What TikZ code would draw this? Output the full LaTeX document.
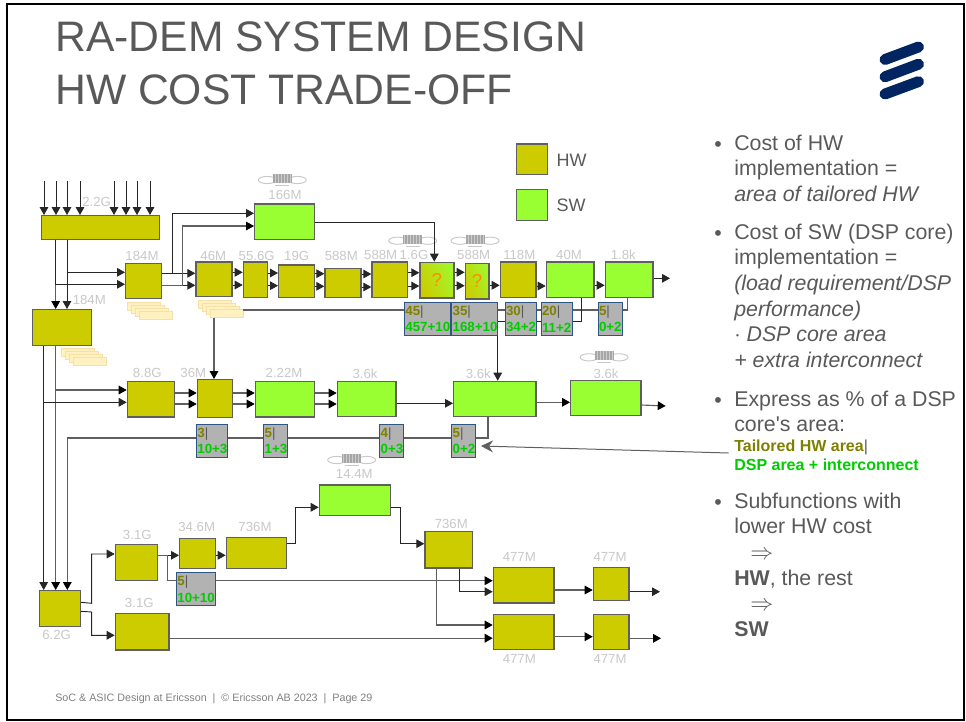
\documentclass[tikz,border=0pt]{standalone}
\usepackage{fontspec}
\setmainfont{Liberation Sans}
\usepackage{tikz}
\usetikzlibrary{arrows.meta, shapes.geometric}
\definecolor{hwfill}{HTML}{CCCC00}
\definecolor{swfill}{HTML}{99FF33}
\definecolor{edgec}{HTML}{5F5F5F}
\definecolor{tagfill}{HTML}{B2B2B2}
\definecolor{tagedge}{HTML}{2F5585}
\definecolor{tagol}{HTML}{808000}
\definecolor{taggn}{HTML}{00CC00}
\definecolor{ink}{HTML}{595959}
\definecolor{faint}{HTML}{C8C8C8}
\definecolor{logoc}{HTML}{002561}
\definecolor{memofill}{HTML}{FFF1C0}
\definecolor{memoedge}{HTML}{F7DFA8}
\newcommand{\tagtxt}[2]{\textcolor{tagol}{#1}\textcolor{ink}{\mdseries|}\\\textcolor{taggn}{#2}}
\tikzset{
  hw/.style={rectangle, draw=edgec, line width=0.9pt, fill=hwfill,
             anchor=north west, inner sep=0pt},
  sw/.style={rectangle, draw=edgec, line width=0.9pt, fill=swfill,
             anchor=north west, inner sep=0pt},
  qbox/.style={rectangle, draw=edgec, line width=0.9pt, anchor=north west,
               shading=axis, left color=hwfill, right color=swfill!85!hwfill,
               shading angle=115, inner sep=0pt, text=orange!90!yellow,
               font=\fontsize{14}{14}\selectfont},
  blk/.style 2 args={minimum width=#1*0.75pt, minimum height=#2*0.75pt},
  tagbox/.style 2 args={rectangle, draw=tagedge, line width=0.8pt, fill=tagfill,
             anchor=north west, inner xsep=0.6pt, inner ysep=0pt, align=left,
             text width=#1*0.75pt-1.2pt, minimum height=#2*0.75pt,
             font=\bfseries\fontsize{10}{12.5}\selectfont},
  lbl/.style={text=faint, inner sep=0pt, font=\fontsize{9.9}{10}\selectfont},
  arr/.style={-{Triangle[length=6pt, width=6.5pt]}, line width=0.7pt, draw=black!85},
  garr/.style={-{Triangle[length=6pt, width=6.5pt, color=black]}, line width=0.85pt, draw=edgec},
  wire/.style={line width=0.85pt, draw=edgec},
  body/.style={anchor=north west, inner sep=0pt, align=left, text=ink,
               font=\fontsize{16}{19.2}\selectfont},
  bul/.style={inner sep=0pt, text=ink, font=\fontsize{16}{16}\selectfont},
  memo/.style={rectangle, draw=memoedge, line width=0.5pt, fill=memofill,
               anchor=north west, inner sep=0pt,
               minimum width=24.6pt, minimum height=6pt},
  memstack/.pic={
    \foreach \k in {1,...,4}
      \node[memo] (-\k) at ({(\k-1)*3.9},{(\k-1)*3}) {};
  },
  dspcoil/.pic={
    \draw[faint, line width=0.7pt] (-15,0) ellipse (9 and 3.6);
    \draw[faint, line width=0.7pt] (15,0) ellipse (9 and 3.6);
    \fill[gray!40] (-9.5,-6) rectangle (9.5,3);
    \foreach \k in {-9,-7.5,...,9}
      \draw[gray!70, line width=0.5pt] (\k,-6) -- (\k,3);
    \draw[faint, line width=1pt] (-7,5.5) -- (7,5.5);
  },
}
\begin{document}
\begin{tikzpicture}[x=0.75pt, y=-0.75pt]
  \useasboundingbox (0,0) rectangle (966,721);
  \draw[black, line width=1.5pt] (7,4) rectangle (964,720);

  % heading and logo
  \node[anchor=north west, inner sep=0pt, align=left, text=ink,
        font=\fontsize{32}{39.8}\selectfont] (title) at (55,21)
    {RA-DEM SYSTEM DESIGN\\HW COST TRADE-OFF};
  \draw[logoc, line width=8.2pt, line cap=round] (885,59.5) -- (918.5,47);
  \draw[logoc, line width=8.2pt, line cap=round] (885,76.8) -- (918.5,64.2);
  \draw[logoc, line width=8.2pt, line cap=round] (885,94) -- (918.5,81.6);
  \node[anchor=west, inner sep=0pt, text=gray, font=\fontsize{8.05}{10}\selectfont] (foot) at (55,699)
    {SoC \& ASIC Design at Ericsson \ | \ © Ericsson AB 2023 \ | \ Page 29};

  % legend
  \node[hw, blk={31}{30.5}] (lhw) at (516,143.3) {};
  \node[sw, blk={31}{31.3}] (lsw) at (516,188.7) {};
  \node[text=ink, inner sep=0pt, font=\fontsize{13.5}{14}\selectfont] (thw) at (571.7,160.3) {HW};
  \node[text=ink, inner sep=0pt, font=\fontsize{13.5}{14}\selectfont] (tsw) at (571,205.7) {SW};

  % first rows of blocks
  \node[hw, blk={118.3}{23.7}] (hbar) at (40.7,215) {};
  \node[sw, blk={59.7}{35.4}] (s166) at (254,203.3) {};
  \node[hw, blk={36}{35.4}] (a184) at (125,262.7) {};
  \node[hw, blk={59}{36}] (b184) at (32,309) {};
  \node[hw, blk={36}{34.7}] (c46) at (195.3,261.3) {};
  \node[hw, blk={24}{35.4}] (d556) at (242.7,261.3) {};
  \node[hw, blk={35.7}{32.4}] (e19) at (278,264.3) {};
  \node[hw, blk={36}{29}] (f588) at (324.3,267.7) {};
  \node[hw, blk={35.7}{35.7}] (g588) at (371.3,261.3) {};
  \node[qbox, blk={34}{35.6}] (q16) at (419.3,261.7) {?};
  \node[qbox, blk={23.6}{35.6}] (q588) at (464.7,262.7) {?};
  \node[hw, blk={35.6}{35.7}] (h118) at (499.7,261.3) {};
  \node[sw, blk={47.6}{35.7}] (s40) at (545.7,261.3) {};
  \node[sw, blk={47.6}{35.7}] (s18) at (604.7,261.3) {};

  % second row
  \node[hw, blk={47}{35.3}] (r88) at (126.7,381) {};
  \node[hw, blk={35}{38}] (r36) at (196.7,379) {};
  \node[sw, blk={59}{35.3}] (r222) at (254.7,381) {};
  \node[sw, blk={58.6}{35}] (r36a) at (336.7,381) {};
  \node[sw, blk={82.3}{35}] (r36b) at (453,380.7) {};
  \node[sw, blk={70.3}{35}] (r36c) at (570,379.7) {};

  % lower rows
  \node[hw, blk={41}{36}] (t62) at (39,590) {};
  \node[hw, blk={42.3}{36.3}] (t31a) at (114.7,543.7) {};
  \node[hw, blk={53.6}{36.6}] (t31b) at (114.7,612.7) {};
  \node[hw, blk={36}{30.3}] (t346) at (179,537.7) {};
  \node[hw, blk={60}{30.7}] (t736) at (225.7,537) {};
  \node[sw, blk={71.3}{30.4}] (s144) at (318.7,484.3) {};
  \node[hw, blk={47.4}{36.6}] (u736) at (424.3,530.7) {};
  \node[hw, blk={60.6}{35.6}] (v477) at (492.7,566.7) {};
  \node[hw, blk={35.6}{33.3}] (w477) at (592.7,566.7) {};
  \node[hw, blk={60.6}{35.3}] (x477) at (492.7,613.7) {};
  \node[hw, blk={35.6}{35.3}] (y477) at (592.7,613.7) {};

  % memory stacks and coils
  \pic (st1) at (127.3,302.3) {memstack};
  \pic (st2) at (198,300.3) {memstack};
  \pic (st3) at (61.3,348) {memstack};
  \pic at (282.3,180) {dspcoil};
  \pic at (412.7,240.7) {dspcoil};
  \pic at (475,240.7) {dspcoil};
  \pic at (604,357.3) {dspcoil};
  \pic at (351.7,460) {dspcoil};

  % grey figures
  \node[lbl] (l22) at (96.7,202.3) {2.2G};
  \node[lbl] (l166) at (285,195) {166M};
  \node[lbl] (l184a) at (142,255.7) {184M};
  \node[lbl] (l184b) at (89.3,300.3) {184M};
  \node[lbl] (l46) at (213.3,255.7) {46M};
  \node[lbl] (l556) at (256.7,255.7) {55.6G};
  \node[lbl] (l19) at (296.7,255.7) {19G};
  \node[lbl] (l588a) at (341.3,255.7) {588M};
  \node[lbl] (l588b) at (380.7,255) {588M};
  \node[lbl] (l16) at (414,255) {1.6G};
  \node[lbl] (l588c) at (473.7,255) {588M};
  \node[lbl] (l118) at (519.3,255) {118M};
  \node[lbl] (l40) at (569,255) {40M};
  \node[lbl] (l18) at (623.3,255) {1.8k};
  \node[lbl] (l88) at (147.3,373.3) {8.8G};
  \node[lbl] (l36) at (193.3,373.3) {36M};
  \node[lbl] (l222) at (284,373.3) {2.22M};
  \node[lbl] (l36a) at (365,373.3) {3.6k};
  \node[lbl] (l36b) at (478.3,373.3) {3.6k};
  \node[lbl] (l36c) at (606,373.3) {3.6k};
  \node[lbl] (l144) at (354.3,474.3) {14.4M};
  \node[lbl] (l346) at (196.7,526.7) {34.6M};
  \node[lbl] (l736a) at (255,526.7) {736M};
  \node[lbl] (l736b) at (451.3,524.3) {736M};
  \node[lbl] (l31a) at (137.3,535.3) {3.1G};
  \node[lbl] (l31b) at (139.3,603.3) {3.1G};
  \node[lbl] (l62) at (56.7,635.3) {6.2G};
  \node[lbl] (l477a) at (519.3,557.3) {477M};
  \node[lbl] (l477b) at (610,557.3) {477M};
  \node[lbl] (l477c) at (519.3,658.7) {477M};
  \node[lbl] (l477d) at (610,658.7) {477M};

  % inputs of the top bar
  \foreach \ax [count=\i] in {44,56,67,80,114,126,137,150} {
    \coordinate (in\i) at (\ax,181);
    \draw[arr] (in\i) -- (in\i |- hbar.north);
  }

  % top bar and first row
  \draw[garr](hbar.south-|55.7,0)--(b184.north-|55.7,0);
  \draw[arr](hbar.south-|67,0)--(b184.north-|67,0);
  \draw[arr](hbar.south-|67,0)--(67,272.3)--(a184.west|-0,272.3);
  \draw[arr](hbar.south-|55.7,0)--(55.7,284.3)--(a184.west|-0,284.3);
  \draw[arr](a184.east|-0,273.3)--(c46.west|-0,273.3);
  \draw[arr](a184.east|-0,285.3)--(c46.west|-0,285.3);
  \draw[arr](a184.east|-0,273.3)--(172,273.3)--(172,213.3)--(s166.west|-0,213.3);
  \draw[garr](a184.east|-0,285.3)--(182.7,285.3)--(182.7,226)--(s166.west|-0,226);
  \draw[arr](c46.east|-0,272.3)--(d556.west|-0,272.3);
  \draw[arr](c46.east|-0,285)--(d556.west|-0,285);
  \draw[arr](d556.east|-0,273)--(e19.west|-0,273);
  \draw[arr](d556.east|-0,285.7)--(e19.west|-0,285.7);
  \draw[arr](e19.east|-0,273.7)--(f588.west|-0,273.7);
  \draw[arr](e19.east|-0,286.3)--(f588.west|-0,286.3);
  \draw[arr](f588.east|-0,274)--(g588.west|-0,274);
  \draw[arr](f588.east|-0,287)--(g588.west|-0,287);
  \draw[arr](g588.east|-0,272.7)--(q16.west|-0,272.7);
  \draw[arr](g588.east|-0,286)--(q16.west|-0,286);
  \draw[arr](q16.east|-0,272.3)--(q588.west|-0,272.3);
  \draw[arr](q16.east|-0,285.7)--(q588.west|-0,285.7);
  \draw[arr](q588.east|-0,285.3)--(h118.west|-0,285.3);
  \draw[arr](h118.east|-0,286)--(s40.west|-0,286);
  \draw[arr](s40.east|-0,285.3)--(s18.west|-0,285.3);
  \coordinate (out1) at (670,278.3);
  \draw[arr](s18.east|-out1)--(out1);
  \draw[arr](s166.east|-0,222)--(434.3,222)--(q16.north-|434.3,0);

  % feedback runs, the tags sit on top of them
  \draw[wire](st2-4.east|-0,310)--(627.3,310)--(s18.south-|627.3,0);
  \draw[arr](s40.south-|581.3,0)--(581.3,321)--(497.7,321)--(r36b.north-|497.7,0);
  \draw[garr](st2-4.south-|214,0)--(r36.north-|214,0);
  \draw[arr](b184.south-|43.7,0)--(t62.north-|43.7,0);
  \draw[garr](b184.south-|55.7,0)--(t62.north-|55.7,0);
  \draw[garr](r36b.south-|488,0)--(488,438)--(67.3,438)--(t62.north-|67.3,0);

  % second row
  \draw[garr](b184.south-|55.7,0)--(55.7,390)--(r88.west|-0,390);
  \draw[arr](b184.south-|43.7,0)--(43.7,402.3)--(r88.west|-0,402.3);
  \draw[garr](r88.east|-0,393)--(r36.west|-0,393);
  \draw[garr](r88.east|-0,404)--(r36.west|-0,404);
  \draw[garr](r36.east|-0,393)--(r222.west|-0,393);
  \draw[garr](r36.east|-0,404)--(r222.west|-0,404);
  \draw[garr](r222.east|-0,393)--(r36a.west|-0,393);
  \draw[garr](r222.east|-0,404)--(r36a.west|-0,404);
  \draw[arr](r36a.east|-0,403.3)--(r36b.west|-0,403.3);
  \draw[garr](r36b.east|-0,402.3)--(r36c.west|-0,402.3);
  \coordinate (out2) at (665.7,406);
  \draw[garr](r36c.east|-0,405)--(out2);

  % lower rows
  \draw[arr](t62.east|-0,602.3)--(91.7,603.3)--(91.7,554)--(t31a.west|-0,554);
  \draw[arr](t62.east|-0,611.3)--(91.7,612)--(91.7,635.3)--(t31b.west|-0,635.3);
  \draw[arr](t31a.east|-0,555.3)--(t346.west|-0,555.3);
  \draw[garr](t31a.east|-0,555.3)--(167.7,555.3)--(167.7,580.7)--(v477.west|-0,580.7);
  \draw[arr](t346.east|-0,555.3)--(t736.west|-0,555.3);
  \draw[arr](t736.east|-0,543.7)--(295.7,543.7)--(295.7,507.3)--(s144.west|-0,507.3);
  \draw[arr](s144.east|-0,507.3)--(400.7,507.3)--(400.7,543.7)--(u736.west|-0,543.7);
  \draw[arr](u736.south-|459.3,0)--(459.3,591.7)--(v477.west|-0,591.7);
  \draw[garr](u736.south-|436.7,0)--(436.7,625)--(x477.west|-0,625);
  \draw[garr](t31b.east|-0,638.2)--(x477.west|-0,638.2);
  \draw[garr](v477.east|-0,590)--(w477.west|-0,590);
  \draw[garr](x477.east|-0,636.7)--(y477.west|-0,636.7);
  \coordinate (out3) at (660,591.7);
  \coordinate (out4) at (661,638.3);
  \draw[arr](w477.east|-out3)--(out3);
  \draw[garr](y477.east|-out4)--(out4);

  % cost tags
  \node[tagbox={45.7}{33.3}] (tg45) at (404,301.7) {\tagtxt{45}{457+10}};
  \node[tagbox={45.7}{33.3}] (tg35) at (451.3,301.7) {\tagtxt{35}{168+10}};
  \node[tagbox={31.3}{33.3}] (tg30) at (504.7,301.7) {\tagtxt{30}{34+2}};
  \node[tagbox={31.3}{33.3}] (tg20) at (540.7,301.7) {\tagtxt{20}{11+2}};
  \node[tagbox={24}{33.3}] (tg5a) at (597.7,301.7) {\tagtxt{5}{0+2}};
  \node[tagbox={30.7}{33.3}] (tg3) at (196,423.7) {\tagtxt{3}{10+3}};
  \node[tagbox={24}{33.3}] (tg5b) at (263.3,423.7) {\tagtxt{5}{1+3}};
  \node[tagbox={24}{33.3}] (tg4) at (379.3,423.7) {\tagtxt{4}{0+3}};
  \node[tagbox={23.7}{33.3}] (tg5c) at (451.3,423.7) {\tagtxt{5}{0+2}};
  \node[tagbox={38.7}{33}] (tg5d) at (176,572) {\tagtxt{5}{10+10}};

  % notes on the right
  \node[bul] (p1) at (718,147) {•};
  \node[body] (n1) at (734,134.5) {Cost of HW\\implementation =\\\textit{area of tailored HW}};
  \node[bul] (p2) at (718,236) {•};
  \node[body] (n2) at (734,223.5) {Cost of SW (DSP core)\\implementation =\\\textit{(load requirement/DSP}\\\textit{performance)}\\\textit{$\cdot$ DSP core area}\\\textit{+ extra interconnect}};
  \node[bul] (p3) at (718,403) {•};
  \node[body] (n3) at (734,390.5) {Express as \% of a DSP\\core\textquotesingle s area:};
  \node[anchor=north west, inner sep=0pt, align=left, font=\bfseries\fontsize{12}{14.3}\selectfont] (ann) at (734,440)
    {\textcolor{tagol}{Tailored HW area}\textcolor{ink}{\mdseries|}\\\textcolor{taggn}{DSP area + interconnect}};
  \node[bul] (p4) at (718,505) {•};
  \node[body] (n4) at (734,492.5) {Subfunctions with\\lower HW cost\\\hspace*{12pt}$\Rightarrow$\\\textbf{HW}, the rest\\\hspace*{12pt}$\Rightarrow$\\\textbf{SW}};

  \draw[-{Stealth[length=9pt, width=9pt, inset=3pt]}, draw=edgec, line width=0.75pt]
    ([xshift=-4pt]ann.west|-0,453)--([xshift=3.7pt]tg5c.east|-0,446);
\end{tikzpicture}
\end{document}
